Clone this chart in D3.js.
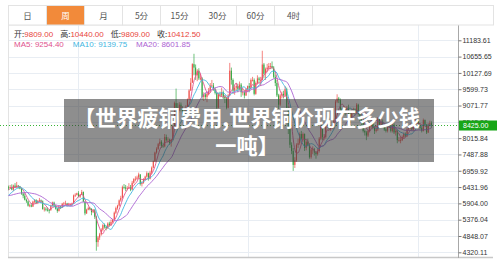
<!DOCTYPE html>
<html>
<head>
<meta charset="utf-8">
<script src="https://cdn.jsdelivr.net/npm/d3@7"></script>
<style>
  html, body { margin: 0; padding: 0; background: #fff; }
  svg { display: block; font-family: "Liberation Sans", Arial, "Noto Sans CJK SC", sans-serif; }
</style>
</head>
<body>
<svg id="chart" width="500" height="261"></svg>
<script>
// ---- data ----
const tabs = ["日", "周", "月", "5分", "15分", "30分", "60分", "4时"];
const activeTab = "周";

const quoteLabels = ["开:", "高:", "低:", "收:"];
const quoteValues = [9809.00, 10440.00, 9809.00, 10412.50];
const maNames = ["MA5", "MA10", "MA20"];
const maValues = [9254.40, 9139.75, 8601.85];
const maPeriods = [5, 10, 20];

const firstWeek = "2019-03-08";
// closes of the weeks before the first candle, only used to warm up the averages
const priorCloses = [6180, 6200, 6120, 6200, 6180, 6250, 6150, 6130, 6060, 5970,
  5850, 5950, 6000, 6000, 6150, 6150, 6180, 6450, 6480];

// weekly [open, high, low, close]
const ohlc = [
  [6420,6480,6330,6400],[6400,6500,6370,6430],[6430,6520,6330,6350],[6350,6510,6300,6480],
  [6480,6560,6400,6430],[6430,6600,6410,6480],[6480,6500,6380,6450],[6450,6470,6360,6380],
  [6380,6400,6180,6220],[6220,6260,6070,6150],[6150,6230,6000,6020],[6020,6060,5920,5970],
  [5970,6000,5800,5830],[5830,5890,5780,5840],[5840,5910,5780,5800],[5800,5990,5790,5960],
  [5960,6040,5900,6000],[6000,6040,5880,5920],[5920,6010,5880,5990],[5990,6080,5950,6000],
  [6000,6030,5910,5970],[5970,6000,5700,5720],[5720,5790,5640,5730],[5730,5780,5650,5700],
  [5700,5770,5640,5690],[5690,5720,5580,5680],[5680,5860,5670,5830],[5830,5960,5800,5930],
  [5930,5960,5800,5830],[5830,5850,5700,5730],[5730,5760,5600,5660],[5660,5830,5640,5800],
  [5800,5830,5720,5780],[5780,5920,5760,5890],[5890,5950,5820,5900],[5900,5990,5860,5900],
  [5900,5920,5800,5850],[5850,5920,5820,5860],[5860,5900,5810,5870],[5870,5930,5820,5900],
  [5900,6190,5890,6160],[6160,6230,6110,6180],[6180,6250,6160,6230],[6230,6300,6100,6120],
  [6120,6210,6080,6180],[6180,6340,6170,6270],[6270,6290,5940,5960],[5960,5980,5520,5580],
  [5580,5730,5560,5700],[5700,5800,5680,5750],[5750,5790,5680,5720],[5720,5750,5520,5620],
  [5620,5720,5590,5680],[5680,5720,5400,5470],[5470,5500,4371,4650],[4650,4850,4500,4800],
  [4800,4950,4720,4900],[4900,5100,4860,5050],[5050,5250,5000,5200],[5200,5250,5090,5150],
  [5150,5190,5030,5100],[5100,5290,5080,5250],[5250,5310,5150,5200],[5200,5380,5180,5300],
  [5300,5400,5260,5380],[5380,5640,5360,5600],[5600,5800,5560,5750],[5750,5860,5700,5830],
  [5830,6030,5800,6000],[6000,6150,5960,6080],[6080,6480,6060,6430],[6430,6530,6360,6420],
  [6420,6500,6300,6380],[6380,6460,6330,6400],[6400,6560,6370,6420],[6420,6500,6300,6350],
  [6350,6630,6330,6570],[6570,6720,6540,6690],[6690,6780,6620,6700],[6700,6800,6660,6740],
  [6740,6900,6700,6840],[6840,6850,6480,6530],[6530,6620,6450,6570],[6570,6720,6540,6680],
  [6680,6800,6640,6770],[6770,6940,6740,6880],[6880,6900,6640,6700],[6700,6960,6680,6900],
  [6900,7100,6850,7060],[7060,7290,7040,7270],[7270,7580,7240,7550],[7550,7720,7510,7670],
  [7670,7860,7640,7820],[7820,8000,7760,7900],[7900,7950,7700,7770],[7770,7870,7700,7750],
  [7750,8150,7720,8050],[8050,8130,7900,7950],[7950,8050,7880,7970],[7970,8000,7800,7860],
  [7860,7990,7740,7960],[7960,8430,7940,8400],[8400,9200,8380,9150],[9150,9620,8860,9000],
  [9000,9150,8850,8980],[8980,9180,8900,9100],[9100,9170,8880,8990],[8990,9050,8740,8880],
  [8880,9000,8700,8850],[8850,9080,8820,9000],[9000,9300,8960,9270],[9270,9600,9240,9560],
  [9560,9960,9540,9809],[9809,10440,9809,10412.5],[10412,10747,10050,10300],[10300,10400,9900,10050],
  [10050,10250,9860,10200],[10200,10280,9900,9950],[9950,10100,9880,9950],[9950,9990,9250,9350],
  [9350,9500,9220,9430],[9430,9480,9260,9350],[9350,9520,9180,9450],[9450,9640,9400,9550],
  [9550,9800,9480,9720],[9720,9900,9660,9720],[9720,9800,9550,9600],[9600,9640,9430,9480],
  [9480,9500,8950,9000],[9000,9480,8980,9430],[9430,9520,9340,9400],[9400,9650,9350,9500],
  [9500,9560,9280,9350],[9350,9400,9150,9300],[9300,9350,8950,9000],[9000,9450,8980,9400],
  [9400,10452,9380,10200],[10200,10300,9750,9900],[9900,9950,9450,9550],[9550,9700,9420,9650],
  [9650,9800,9550,9700],[9700,9780,9500,9600],[9600,9850,9560,9750],[9750,9800,9350,9500],
  [9500,9650,9400,9500],[9500,9560,9300,9400],[9400,9640,9380,9600],[9600,9720,9520,9700],
  [9700,9800,9500,9650],[9650,9950,9600,9900],[9900,10000,9850,9900],[9900,9950,9400,9450],
  [9450,9850,9420,9800],[9800,10050,9750,9950],[9950,10000,9800,9900],[9900,10000,9700,9900],
  [9900,10845,9880,10400],[10400,10450,9950,10100],[10100,10300,9900,10250],[10250,10420,10150,10300],
  [10300,10450,10200,10350],[10350,10450,10250,10350],[10350,10500,10250,10300],[10300,10350,9950,10000],
  [10000,10080,9700,9800],[9800,9900,9350,9400],[9400,9450,8960,9100],[9100,9450,9050,9400],
  [9400,9520,9300,9450],[9450,9550,9300,9400],[9400,9700,9350,9600],[9600,9650,8950,9000],
  [9000,9050,8150,8400],[8400,8450,7700,7800],[7800,7880,7500,7600],[7600,7700,6955,7150],
  [7150,7400,7050,7300],[7300,7850,7250,7800],[7800,8000,7700,7850],[7850,8200,7800,8150],
  [8150,8250,7950,8000],[8000,8200,7900,8150],[8150,8170,7600,7700],[7700,7950,7620,7900],
  [7900,8000,7750,7800],[7800,7850,7350,7400],[7400,7700,7350,7650],[7650,7750,7500,7650],
  [7650,7700,7450,7550],[7550,7600,7350,7500],[7500,7700,7450,7600],[7600,8050,7550,8000],
  [8000,8450,7950,8400],[8400,8420,7950,8050],[8050,8150,7950,8050],[8050,8450,8000,8400],
  [8400,8600,8350,8500],[8500,8550,8300,8350],[8350,8420,8250,8350],[8350,8450,8300,8380],
  [8380,8650,8300,8600],[8600,9250,8580,9200],[9200,9436,9150,9300],[9300,9350,9150,9250],
  [9250,9300,8900,8950],[8950,9000,8800,8900],[8900,9050,8850,8950],[8950,9000,8750,8850],
  [8850,9050,8800,9000],[9000,9100,8750,8800],[8800,8850,8500,8700],[8700,8950,8650,8850],
  [8850,9000,8800,8950],[8950,8980,8750,8850],[8850,9150,8800,9100],[9100,9130,8750,8800],
  [8800,8850,8550,8600],[8600,8650,8400,8550],[8550,8580,8200,8250],[8250,8300,8100,8200],
  [8200,8250,7950,8100],[8100,8300,8050,8250],[8250,8450,8200,8400],[8400,8700,8350,8650],
  [8650,8700,8300,8350],[8350,8400,8150,8250],[8250,8400,8200,8300],[8300,8700,8250,8650],
  [8650,8700,8400,8450],[8450,8650,8400,8550],[8550,8620,8400,8450],[8450,8500,8250,8300],
  [8300,8350,8200,8250],[8250,8450,8200,8400],[8400,8550,8350,8450],[8450,8500,8200,8250],
  [8250,8480,8200,8450],[8450,8500,8150,8200],[8200,8300,8100,8250],[8250,8280,7850,7950],
  [7950,8050,7900,7950],[7950,8050,7850,7950],[7950,8100,7920,8050],[8050,8200,8000,8150],
  [8150,8200,8050,8100],[8100,8350,8050,8300],[8300,8400,8250,8350],[8350,8500,8300,8450],
  [8450,8480,8250,8300],[8300,8600,8250,8550],[8550,8650,8500,8600],[8600,8650,8500,8560],
  [8560,8600,8350,8400],[8400,8450,8300,8350],[8350,8400,8200,8250],[8250,8650,8230,8600],
  [8600,8620,8400,8450],[8450,8480,8150,8200],[8200,8500,8180,8450],[8450,8580,8400,8500],
  [8500,8560,8350,8425]
];

const axisTicks = [11183.61, 10655.65, 10127.69, 9599.73, 9071.77, 8543.80, 8015.84,
  7487.88, 6959.92, 6431.96, 5904.00, 5376.04, 4848.07, 4320.11];
const lastPrice = 8425.00;
const titleLines = ["【世界疲铜费用,世界铜价现在多少钱", "一吨】"];

// ---- styles ----
const upColor = "#ef4f4a";
const downColor = "#35a843";
const maColors = ["#e0528e", "#3fb6df", "#ac63d3"];
const gridColor = "#e8edf3";

// ---- layout ----
const svg = d3.select("#chart");
const plotLeft = 8, plotRight = 432, axisX = 458.5, plotTop = 25, plotBottom = 257;

const x = d3.scaleBand()
  .domain(d3.range(ohlc.length))
  .range([plotLeft, plotRight])
  .paddingInner(0.35);

const y = d3.scaleLinear()
  .domain([4320.11, 11183.61])
  .range([252.3, 40.3]);

const start = new Date(firstWeek + "T00:00:00");
const weekDates = ohlc.map((d, i) => d3.timeDay.offset(start, 7 * i));
const step = x.step();

// grid
const grid = svg.append("g");
grid.selectAll("line.h")
  .data(axisTicks)
  .enter().append("line")
  .attr("x1", plotLeft).attr("x2", axisX)
  .attr("y1", d => Math.round(y(d)) + 0.5)
  .attr("y2", d => Math.round(y(d)) + 0.5)
  .attr("stroke", gridColor);

// vertical lines at the start of every second year
const yearStarts = weekDates
  .map((d, i) => ({ d, i }))
  .filter(({ d, i }) => i > 0 && d.getFullYear() !== weekDates[i - 1].getFullYear() && d.getFullYear() % 2 === 0);

grid.selectAll("line.v")
  .data(yearStarts)
  .enter().append("line")
  .attr("x1", d => Math.round(x(d.i) - step * 0.175) + 0.5)
  .attr("x2", d => Math.round(x(d.i) - step * 0.175) + 0.5)
  .attr("y1", plotTop).attr("y2", plotBottom)
  .attr("stroke", gridColor);

svg.append("line")
  .attr("x1", plotLeft + 0.5).attr("x2", plotLeft + 0.5)
  .attr("y1", plotTop).attr("y2", plotBottom)
  .attr("stroke", "#e3e3e3");

svg.append("line")
  .attr("x1", plotLeft).attr("x2", 493)
  .attr("y1", plotBottom + 0.5).attr("y2", plotBottom + 0.5)
  .attr("stroke", "#c8c8c8")
  .attr("stroke-width", 1.5);

// candles
const cx = i => x(i) + x.bandwidth() / 2;
const candles = svg.append("g")
  .selectAll("g")
  .data(ohlc)
  .enter().append("g")
  .attr("fill", d => d[3] >= d[0] ? upColor : downColor)
  .attr("stroke", d => d[3] >= d[0] ? upColor : downColor);

candles.append("line")
  .attr("x1", (d, i) => cx(i)).attr("x2", (d, i) => cx(i))
  .attr("y1", d => y(d[1])).attr("y2", d => y(d[2]))
  .attr("stroke-width", 0.7);

candles.append("rect")
  .attr("stroke", "none")
  .attr("x", (d, i) => x(i))
  .attr("width", x.bandwidth())
  .attr("y", d => y(Math.max(d[0], d[3])))
  .attr("height", d => Math.max(0.8, Math.abs(y(d[0]) - y(d[3]))));

// moving averages
const allCloses = priorCloses.concat(ohlc.map(d => d[3]));
function movingAverage(n) {
  return ohlc.map((d, i) => {
    const end = priorCloses.length + i + 1;
    return d3.mean(allCloses.slice(Math.max(0, end - n), end));
  });
}

const line = d3.line()
  .x((d, i) => cx(i))
  .y(d => y(d))
  .curve(d3.curveMonotoneX);

maPeriods.forEach((n, k) => {
  svg.append("path")
    .datum(movingAverage(n))
    .attr("fill", "none")
    .attr("stroke", maColors[k])
    .attr("stroke-width", 0.9)
    .attr("d", line);
});

// current price line
svg.append("line")
  .attr("x1", 0).attr("x2", axisX)
  .attr("y1", y(lastPrice)).attr("y2", y(lastPrice))
  .attr("stroke", "#37b337")
  .attr("stroke-dasharray", "1,2");

// right axis
svg.append("line")
  .attr("x1", axisX).attr("x2", axisX)
  .attr("y1", plotTop).attr("y2", plotBottom + 1)
  .attr("stroke", "#a8a8a8");

const axis = svg.append("g")
  .attr("transform", `translate(${axisX},0)`)
  .call(d3.axisRight(y).tickValues(axisTicks).tickSize(3).tickPadding(1)
    .tickFormat(d => d.toFixed(2)));
axis.select(".domain").remove();
axis.selectAll(".tick line").attr("stroke", "#777");
axis.selectAll(".tick text")
  .attr("fill", "#333")
  .attr("font-size", 7)
  .attr("font-family", "Liberation Sans, Arial, sans-serif");

// price tag sits on top of the nearest tick label, as in the source
const tag = svg.append("g").attr("transform", `translate(${axisX + 0.5},${y(lastPrice)})`);
tag.append("rect")
  .attr("x", 0).attr("y", -5).attr("width", 38).attr("height", 10)
  .attr("fill", "#17a617");
tag.append("text")
  .attr("x", 4).attr("y", 2.6)
  .attr("fill", "#fff")
  .attr("font-size", 7)
  .text(lastPrice.toFixed(2));

// tabs
const tabW = 38;
const tabBar = svg.append("g");
tabBar.append("rect")
  .attr("x", plotLeft + 0.5).attr("y", 5.5)
  .attr("width", 485).attr("height", 19.5)
  .attr("fill", "#fff")
  .attr("stroke", "#e3e3e3");
const tab = tabBar.selectAll("g.tab")
  .data(tabs)
  .enter().append("g")
  .attr("transform", (d, i) => `translate(${plotLeft + 0.5 + i * tabW},5.5)`);
tab.append("rect")
  .attr("width", tabW).attr("height", 19.5)
  .attr("fill", d => d === activeTab ? "#f28a3a" : "#fff")
  .attr("stroke", "#e3e3e3");
tab.append("text")
  .attr("x", tabW / 2).attr("y", 13)
  .attr("text-anchor", "middle")
  .attr("font-size", 8.5)
  .attr("font-family", "Noto Sans CJK SC, sans-serif")
  .attr("fill", d => d === activeTab ? "#fff" : "#555")
  .text(d => d);

// quote header
const q = svg.append("text")
  .attr("x", 14).attr("y", 36.5)
  .attr("font-size", 8);
quoteLabels.forEach((lab, i) => {
  q.append("tspan").attr("fill", "#333").attr("dx", i ? 7 : 0)
    .attr("font-family", "Noto Sans CJK SC, sans-serif").text(lab);
  q.append("tspan").attr("fill", "#e8453c").text(quoteValues[i].toFixed(2));
});

const m = svg.append("text")
  .attr("x", 14).attr("y", 46.5)
  .attr("font-size", 8);
maNames.forEach((name, i) => {
  m.append("tspan").attr("fill", maColors[i]).attr("dx", i ? 9 : 0)
    .text(`${name}: ${maValues[i].toFixed(2)}`);
});

// title overlay
svg.append("rect")
  .attr("x", 64).attr("y", 99)
  .attr("width", 370).attr("height", 63)
  .attr("fill", "rgba(60,60,60,0.58)");

svg.append("g")
  .selectAll("text")
  .data(titleLines)
  .enter().append("text")
  .attr("x", 247)
  .attr("y", (d, i) => 125.5 + i * 28)
  .attr("text-anchor", "middle")
  .attr("fill", "#fff")
  .attr("font-size", 21.2)
  .attr("font-weight", "bold")
  .attr("font-family", "Noto Sans CJK SC, sans-serif")
  .text(d => d);
</script>
</body>
</html>
